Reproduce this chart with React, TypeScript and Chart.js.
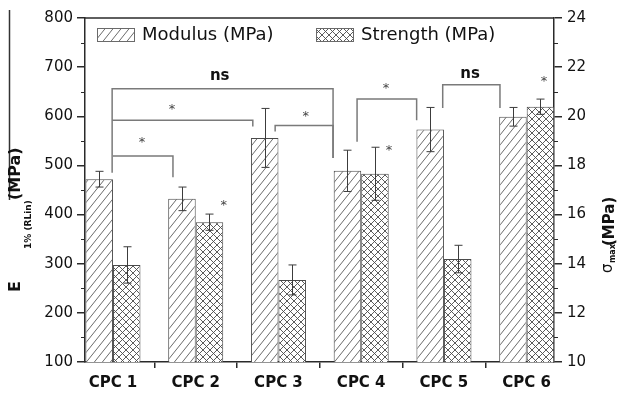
import { useEffect, useRef } from 'react';
import { Chart, registerables } from 'chart.js';

Chart.register(...registerables);

// ---------- data ----------
const categories = ['CPC 1', 'CPC 2', 'CPC 3', 'CPC 4', 'CPC 5', 'CPC 6'];
const modulus = [472, 432, 556, 489, 573, 599];
const modulusErr = [16, 24, 60, 42, 45, 19];
const strength = [13.95, 15.69, 13.34, 17.66, 14.19, 20.39];
const strengthErr = [0.74, 0.33, 0.61, 1.08, 0.56, 0.31];
const seriesNames = ['Modulus (MPa)', 'Strength (MPa)'];

const leftMin = 100;
const leftMax = 800;
const leftStep = 100;
const rightMin = 10;
const rightMax = 24;
const rightStep = 2;

// significance brackets (x in category units, y in modulus units)
const brackets = [
  { x1: 0.99, x2: 3.66, y: 656, y1: 485, y2: 515 },
  { x1: 0.99, x2: 2.69, y: 592, y1: 592, y2: 579 },
  { x1: 1.0, x2: 1.725, y: 519, y1: 519, y2: 476 },
  { x1: 2.96, x2: 3.66, y: 581, y1: 569, y2: 515 },
  { x1: 3.95, x2: 4.67, y: 635, y1: 548, y2: 592 },
  { x1: 4.985, x2: 5.677, y: 664, y1: 617, y2: 617 },
];
const marks = [
  { x: 2.29, y: 681, text: 'ns' },
  { x: 1.713, y: 614, text: '*' },
  { x: 1.35, y: 547, text: '*' },
  { x: 3.33, y: 600, text: '*' },
  { x: 4.3, y: 657, text: '*' },
  { x: 5.315, y: 685, text: 'ns' },
  { x: 2.34, y: 418, text: '*' },
  { x: 4.336, y: 530, text: '*' },
  { x: 6.21, y: 670, text: '*' },
];

const FONT = '"DejaVu Sans", "Liberation Sans", Arial, sans-serif';
const AXIS = '#2a2a2a';

function makePattern(ctx: CanvasRenderingContext2D, cross: boolean): CanvasPattern {
  const w = cross ? 7 : 8;
  const h = cross ? 7 : 10;
  const c = document.createElement('canvas');
  c.width = w;
  c.height = h;
  const g = c.getContext('2d') as CanvasRenderingContext2D;
  g.fillStyle = '#ffffff';
  g.fillRect(0, 0, w, h);
  g.strokeStyle = cross ? '#4a4a4a' : '#5a5a5a';
  g.lineWidth = 0.9;
  g.beginPath();
  for (const x0 of [-w, 0, w]) {
    g.moveTo(x0, h);
    g.lineTo(x0 + w, 0);
    if (cross) {
      g.moveTo(x0, 0);
      g.lineTo(x0 + w, h);
    }
  }
  g.stroke();
  return ctx.createPattern(c, 'repeat') as CanvasPattern;
}

export default function App() {
  const ref = useRef<HTMLCanvasElement | null>(null);

  useEffect(() => {
    const canvas = ref.current;
    if (!canvas) return;
    const ctx0 = canvas.getContext('2d') as CanvasRenderingContext2D;
    const diag = makePattern(ctx0, false);
    const cross = makePattern(ctx0, true);
    const patterns = [diag, cross];

    const overlay = {
      id: 'overlay',
      afterDatasetsDraw(chart: any) {
        const ctx = chart.ctx as CanvasRenderingContext2D;
        const xs = chart.scales.x;
        const yl = chart.scales.y;
        const yr = chart.scales.y1;
        const area = chart.chartArea;
        ctx.save();
        // error bars
        const sets = [
          { vals: modulus, errs: modulusErr, sc: yl },
          { vals: strength, errs: strengthErr, sc: yr },
        ];
        sets.forEach((s, di) => {
          const meta = chart.getDatasetMeta(di);
          meta.data.forEach((bar: any, i: number) => {
            const x = Math.round(bar.x) + 0.5;
            const yt = s.sc.getPixelForValue(s.vals[i] + s.errs[i]);
            const yb = s.sc.getPixelForValue(s.vals[i] - s.errs[i]);
            ctx.strokeStyle = '#3c3c3c';
            ctx.lineWidth = 1;
            ctx.beginPath();
            ctx.moveTo(x, yt);
            ctx.lineTo(x, yb);
            ctx.moveTo(x - 4, yt);
            ctx.lineTo(x + 4, yt);
            ctx.moveTo(x - 4, yb);
            ctx.lineTo(x + 4, yb);
            ctx.stroke();
          });
        });
        // brackets
        ctx.strokeStyle = '#7a7a7a';
        ctx.lineWidth = 1.5;
        brackets.forEach((b) => {
          const x1 = xs.getPixelForValue(b.x1);
          const x2 = xs.getPixelForValue(b.x2);
          const y = yl.getPixelForValue(b.y);
          ctx.beginPath();
          ctx.moveTo(x1, yl.getPixelForValue(b.y1));
          ctx.lineTo(x1, y);
          ctx.lineTo(x2, y);
          ctx.lineTo(x2, yl.getPixelForValue(b.y2));
          ctx.stroke();
        });
        // marks
        ctx.textAlign = 'center';
        ctx.textBaseline = 'middle';
        marks.forEach((m) => {
          if (m.text === 'ns') {
            ctx.font = `bold 15px ${FONT}`;
            ctx.fillStyle = '#111';
          } else {
            ctx.font = `13px ${FONT}`;
            ctx.fillStyle = '#444';
          }
          ctx.fillText(m.text, xs.getPixelForValue(m.x), yl.getPixelForValue(m.y));
        });
        ctx.restore();
      },
      afterDraw(chart: any) {
        const ctx = chart.ctx as CanvasRenderingContext2D;
        const area = chart.chartArea;
        const yl = chart.scales.y;
        const yr = chart.scales.y1;
        ctx.save();
        // top frame line
        ctx.strokeStyle = AXIS;
        ctx.lineWidth = 1.5;
        ctx.beginPath();
        ctx.moveTo(area.left, area.top);
        ctx.lineTo(area.right, area.top);
        ctx.stroke();
        // minor ticks
        ctx.lineWidth = 1.2;
        ctx.beginPath();
        for (let v = leftMin + leftStep / 2; v < leftMax; v += leftStep) {
          const y = Math.round(yl.getPixelForValue(v)) + 0.5;
          ctx.moveTo(area.left - 4, y);
          ctx.lineTo(area.left, y);
        }
        for (let v = rightMin + rightStep / 2; v < rightMax; v += rightStep) {
          const y = Math.round(yr.getPixelForValue(v)) + 0.5;
          ctx.moveTo(area.right, y);
          ctx.lineTo(area.right + 4, y);
        }
        ctx.stroke();
        // legend
        ctx.font = `18px ${FONT}`;
        ctx.textBaseline = 'middle';
        ctx.textAlign = 'left';
        const legX = [area.left + 12, area.left + 231];
        seriesNames.forEach((name, i) => {
          const lx = legX[i];
          const ly = area.top + 10;
          ctx.fillStyle = patterns[i];
          ctx.fillRect(lx, ly, 38, 14);
          ctx.strokeStyle = '#6a6a6a';
          ctx.lineWidth = 1;
          ctx.strokeRect(lx + 0.5, ly + 0.5, 37, 13);
          ctx.fillStyle = '#111';
          ctx.fillText(name, lx + 45, ly + 7);
        });
        // stray line at the left edge
        ctx.strokeStyle = '#333';
        ctx.lineWidth = 1.5;
        ctx.beginPath();
        ctx.moveTo(9.5, 10);
        ctx.lineTo(9.5, 200);
        ctx.stroke();
        // left axis title (rotated)
        ctx.fillStyle = '#111';
        ctx.textBaseline = 'alphabetic';
        ctx.save();
        ctx.translate(20, 292);
        ctx.rotate(-Math.PI / 2);
        ctx.font = `bold 16px ${FONT}`;
        ctx.fillText('E', 0, 0);
        ctx.font = `bold 9px ${FONT}`;
        ctx.fillText('1% (RLin)', 43, 11);
        ctx.font = `bold 16px ${FONT}`;
        ctx.fillText('(MPa)', 92, 0);
        ctx.restore();
        // right axis title (rotated)
        ctx.save();
        ctx.translate(614, 273);
        ctx.rotate(-Math.PI / 2);
        ctx.font = `15px ${FONT}`;
        ctx.fillText('σ', 0, -2);
        ctx.font = `bold 8px ${FONT}`;
        ctx.fillText('max', 10, 1);
        ctx.font = `bold 15px ${FONT}`;
        ctx.fillText('(MPa)', 27, 0);
        ctx.restore();
        ctx.restore();
      },
    };

    const chart = new Chart(canvas, {
      type: 'bar',
      data: {
        datasets: [
          {
            label: seriesNames[0],
            data: modulus.map((v, i) => ({ x: i + 1, y: v })),
            yAxisID: 'y',
            backgroundColor: diag,
            borderColor: '#4a4a4a',
            borderWidth: 1,
            categoryPercentage: 0.665,
            barPercentage: 1,
          },
          {
            label: seriesNames[1],
            data: strength.map((v, i) => ({ x: i + 1, y: v })),
            yAxisID: 'y1',
            backgroundColor: cross,
            borderColor: '#4a4a4a',
            borderWidth: 1,
            categoryPercentage: 0.665,
            barPercentage: 1,
          },
        ],
      } as any,
      options: {
        responsive: false,
        animation: false,
        devicePixelRatio: 1,
        layout: { padding: { top: 18, left: 0, right: 0, bottom: 0 } },
        plugins: { legend: { display: false }, tooltip: { enabled: false } },
        scales: {
          x: {
            type: 'linear',
            min: 0.662,
            max: 6.33,
            offset: false,
            afterBuildTicks: (s: any) => {
              s.ticks = categories.map((_, i) => ({ value: i + 1 }));
            },
            afterFit: (s: any) => {
              s.height = 31;
            },
            ticks: {
              callback: (v: any) => categories[Math.round(Number(v)) - 1] ?? '',
              font: { family: FONT, size: 15, weight: 'bold' },
              color: '#111',
              padding: 6,
              maxRotation: 0,
              autoSkip: false,
            },
            grid: {
              offset: true,
              drawOnChartArea: false,
              drawTicks: true,
              tickLength: 6,
              color: AXIS,
              lineWidth: 1.5,
            },
            border: { display: true, color: AXIS, width: 1.5 },
          },
          y: {
            position: 'left',
            min: leftMin,
            max: leftMax,
            afterFit: (s: any) => {
              s.width = 85;
            },
            ticks: {
              stepSize: leftStep,
              font: { family: FONT, size: 15 },
              color: '#111',
              padding: 4,
            },
            grid: { drawOnChartArea: false, tickLength: 8, color: AXIS, lineWidth: 1.5 },
            border: { display: true, color: AXIS, width: 1.5 },
          },
          y1: {
            position: 'right',
            min: rightMin,
            max: rightMax,
            afterFit: (s: any) => {
              s.width = 64;
            },
            ticks: {
              stepSize: rightStep,
              font: { family: FONT, size: 15 },
              color: '#111',
              padding: 5,
            },
            grid: { drawOnChartArea: false, tickLength: 8, color: AXIS, lineWidth: 1.5 },
            border: { display: true, color: AXIS, width: 1.5 },
          },
        },
      } as any,
      plugins: [overlay],
    });
    return () => chart.destroy();
  }, []);

  return (
    <div style={{ position: 'absolute', left: 0, top: 0, width: 618, height: 393, background: '#fff' }}>
      <canvas ref={ref} width={618} height={393} style={{ display: 'block', width: 618, height: 393 }} />
    </div>
  );
}
